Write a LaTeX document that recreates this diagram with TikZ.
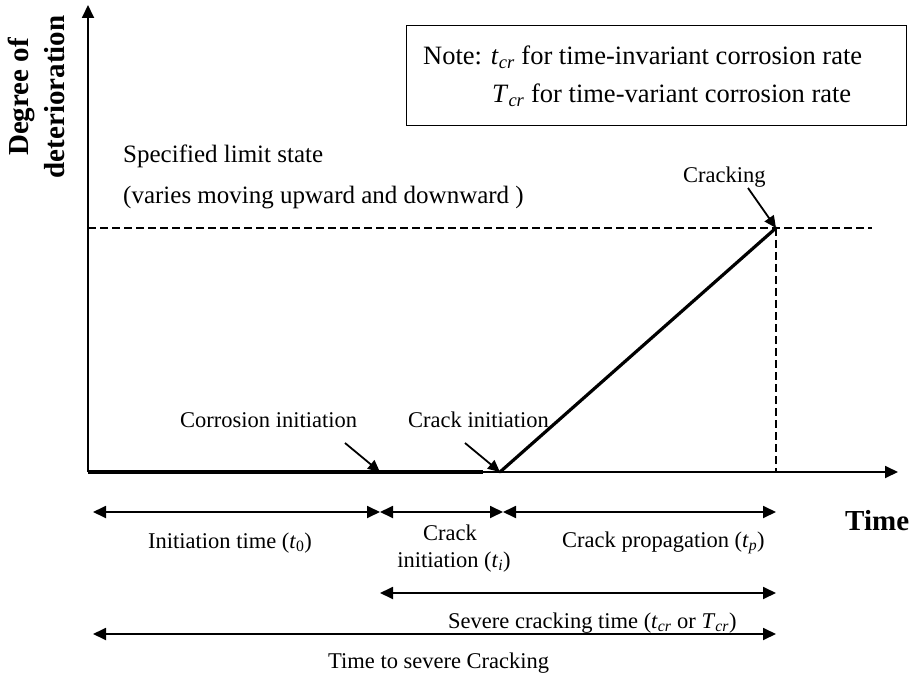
\documentclass[tikz,border=0pt]{standalone}
\usepackage{fontspec}
\setmainfont{Liberation Serif}
\usetikzlibrary{arrows.meta}
\newcommand{\isub}[2]{\textit{#1}\textsubscript{\textit{#2}}}
\begin{document}
\begin{tikzpicture}[x=1pt,y=-1pt,
  hd/.style={-{Triangle[length=13pt,width=12pt]}},
  dhd/.style={{Triangle[length=13pt,width=12pt]}-{Triangle[length=13pt,width=12pt]}},
  ax/.style={line width=1.8pt},
  dim/.style={line width=1.8pt, dhd},
  pointer/.style={line width=1.8pt, -{Triangle[length=12pt,width=11pt]}},
  lim/.style={line width=1.3pt, dash pattern=on 8pt off 4pt},
  curve/.style={line width=3.2pt},
  big/.style={font=\fontsize{25}{40}\selectfont, inner sep=0pt, anchor=base west},
  note/.style={font=\fontsize{26.5}{38}\selectfont, inner sep=0pt, anchor=base west},
  small/.style={font=\fontsize{22.5}{27}\selectfont, inner sep=0pt, anchor=base west},
  bold/.style={font=\fontsize{29}{36}\selectfont\bfseries, inner sep=0pt},
]
\useasboundingbox (0,0) rectangle (910,676);

% key points
\coordinate (O) at (88,472);
\coordinate (Ytop) at (88,5);
\coordinate (Xend) at (898,472);
\coordinate (Tend) at (483,472);
\coordinate (K) at (500,472);
\coordinate (C) at (776,228);
\coordinate (Lleft) at (88,228);
\coordinate (Lright) at (872,228);
\coordinate (Cbot) at (776,472);

% limit state lines
\draw[lim] (Lleft) -- (Lright);
\draw[lim] (C) -- (Cbot);

% axes
\draw[ax,hd] (O) -- (Ytop);
\draw[ax,hd] (O) -- (Xend);

% deterioration curve
\draw[curve] (O) -- (Tend);
\draw[curve,line cap=round] (K) -- (C);

% axis labels
\node[bold, rotate=90, align=center] (ylab) at (36,97) {Degree of\\deterioration};
\node[bold, anchor=base west] (tlab) at (845,530) {Time};

% note box
\node[draw, line width=1.3pt, minimum width=500pt, minimum height=100pt, anchor=north west, inner sep=0pt] (box) at (406,25) {};
\node[note] (n1) at (423,65) {Note: \isub{t}{cr} for time-invariant corrosion rate};
\node[note] (n2) at (492,103) {\isub{T}{cr} for time-variant corrosion rate};

% limit state text
\node[big] (s1) at (123,163) {Specified limit state};
\node[big] (s2) at (123,204) {(varies moving upward and downward )};

% event labels and pointers
\node[small] (crk) at (683,183) {Cracking};
\coordinate (crkA) at (748,188);
\draw[pointer] (crkA) -- (C);

\node[small] (corr) at (180,427) {Corrosion initiation};
\coordinate (corrA) at (345,443);
\coordinate (corrB) at (380,472);
\draw[pointer] (corrA) -- (corrB);

\node[small] (ci) at (408,427) {Crack initiation};
\coordinate (ciA) at (465,443);
\draw[pointer] (ciA) -- (K);

% dimension arrows
\coordinate (a0) at (93,512);
\coordinate (a1) at (380,512);
\coordinate (a2) at (503,512);
\coordinate (a3) at (776,512);
\draw[dim] (a0) -- (a1);
\draw[dim] (a1) -- (a2);
\draw[dim] (a2) -- (a3);

\coordinate (b1) at (380,593);
\coordinate (b2) at (776,593);
\draw[dim] (b1) -- (b2);

\coordinate (c1) at (93,634);
\coordinate (c2) at (776,634);
\draw[dim] (c1) -- (c2);

\node[small] (d1) at (148,548) {Initiation time (\textit{t}\textsubscript{0})};
\node[small, anchor=base] (d2a) at (450,540) {Crack};
\node[small, anchor=base] (d2b) at (454,567) {initiation (\isub{t}{i})};
\node[small] (d3) at (562,547) {Crack propagation (\isub{t}{p})};
\node[small] (d4) at (448,628) {Severe cracking time (\isub{t}{cr} or \isub{T}{cr})};
\node[small] (d5) at (328,668) {Time to severe Cracking};
\end{tikzpicture}
\end{document}
